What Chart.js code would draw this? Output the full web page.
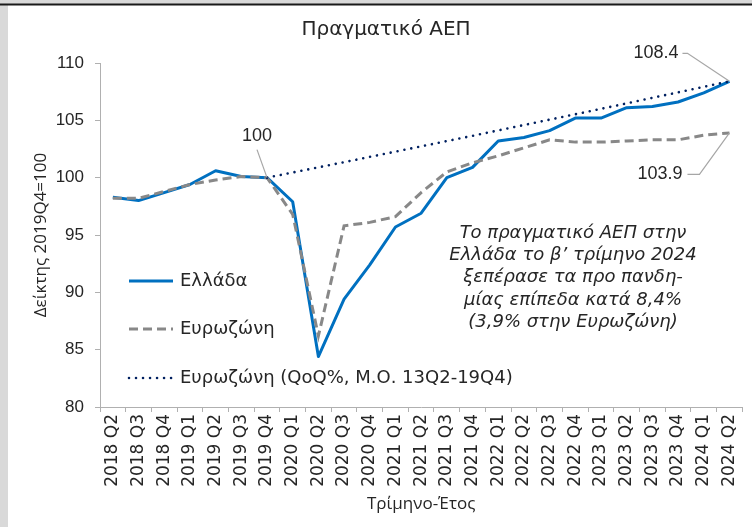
<!DOCTYPE html>
<html><head><meta charset="utf-8">
<script src="https://cdn.jsdelivr.net/npm/chart.js@4.4.1/dist/chart.umd.min.js"></script>
<style>html,body{margin:0;padding:0;background:#fff;overflow:hidden}canvas{display:block}</style>
</head><body>
<canvas id="c" width="752" height="527"></canvas>
<script>
const categories = ['2018 Q2','2018 Q3','2018 Q4','2019 Q1','2019 Q2','2019 Q3','2019 Q4',
  '2020 Q1','2020 Q2','2020 Q3','2020 Q4','2021 Q1','2021 Q2','2021 Q3','2021 Q4',
  '2022 Q1','2022 Q2','2022 Q3','2022 Q4','2023 Q1','2023 Q2','2023 Q3','2023 Q4','2024 Q1','2024 Q2'];
const greece = [98.3, 98.0, 98.7, 99.4, 100.6, 100.1, 100.0, 97.9, 84.4, 89.4, 92.4, 95.7, 96.9,
  100.0, 100.9, 103.2, 103.5, 104.1, 105.2, 105.2, 106.1, 106.2, 106.6, 107.4, 108.4];
const eurozone = [98.2, 98.2, 98.8, 99.4, 99.8, 100.1, 100.0, 96.8, 86.2, 95.8, 96.1, 96.6, 98.7,
  100.5, 101.3, 101.9, 102.6, 103.3, 103.1, 103.1, 103.2, 103.3, 103.3, 103.7, 103.9];
const eurozoneTrend = [null, null, null, null, null, null, 100.0, 100.45, 100.9, 101.35, 101.81, 102.27,
  102.73, 103.19, 103.65, 104.12, 104.59, 105.06, 105.53, 106.0, 106.48, 106.96, 107.44, 107.92, 108.4];
const yTickValues = [80, 85, 90, 95, 100, 105, 110];
const seriesNames = ['Ελλάδα', 'Ευρωζώνη', 'Ευρωζώνη (QoQ%, Μ.Ο. 13Q2-19Q4)'];
const chartTitle = 'Πραγματικό ΑΕΠ';
const yTitle = 'Δείκτης 2019Q4=100';
const xTitle = 'Τρίμηνο-Έτος';
const noteLines = ['Το πραγματικό ΑΕΠ στην', 'Ελλάδα το β’ τρίμηνο 2024', 'ξεπέρασε τα προ πανδη-',
  'μίας επίπεδα κατά 8,4%', '(3,9% στην Ευρωζώνη)'];
const callouts = [
  {series: 0, index: 6, text: '100'},
  {series: 0, index: 24, text: '108.4'},
  {series: 1, index: 24, text: '103.9'}
];

const TXT = '#262626';
const LEAD = '#a6a6a6';

const deco = {
  id: 'deco',
  beforeDraw(chart) {
    const ctx = chart.ctx;
    ctx.save();
    ctx.fillStyle = '#ffffff'; ctx.fillRect(0, 0, 752, 527);
    ctx.fillStyle = '#d9d9d9'; ctx.fillRect(0, 0, 752, 4); ctx.fillRect(0, 0, 8, 527);
    ctx.fillStyle = '#1a1a1a'; ctx.fillRect(0, 3.5, 752, 2);
    ctx.restore();
  },
  afterDraw(chart) {
    const ctx = chart.ctx;
    const xs = chart.scales.x, ys = chart.scales.y;
    ctx.save();
    // title
    ctx.fillStyle = TXT;
    ctx.font = '20px "DejaVu Sans"';
    ctx.textAlign = 'center'; ctx.textBaseline = 'middle';
    ctx.fillText(chartTitle, 386, 30);
    // legend
    const rows = [281, 329, 378];
    chart.data.datasets.forEach((ds, i) => {
      const y = rows[i];
      ctx.save();
      ctx.strokeStyle = ds.borderColor; ctx.lineWidth = ds.borderWidth;
      ctx.setLineDash(ds.borderDash || []);
      ctx.lineCap = ds.borderCapStyle || 'butt';
      ctx.beginPath(); ctx.moveTo(129, y); ctx.lineTo(173, y); ctx.stroke();
      ctx.restore();
      ctx.fillStyle = TXT;
      ctx.font = '18px "DejaVu Sans"';
      ctx.textAlign = 'left'; ctx.textBaseline = 'middle';
      ctx.fillText(ds.label, 180, y);
    });
    // callouts
    const series = [greece, eurozone];
    ctx.font = '18px "Liberation Sans"';
    ctx.strokeStyle = LEAD; ctx.lineWidth = 1.2; ctx.fillStyle = TXT;
    callouts.forEach((c, k) => {
      const px = xs.getPixelForValue(c.index);
      const py = ys.getPixelForValue(series[c.series][c.index]);
      ctx.beginPath();
      if (k === 0) {
        ctx.moveTo(px - 10, py - 28); ctx.lineTo(px, py); ctx.stroke();
        ctx.textAlign = 'center'; ctx.textBaseline = 'middle';
        ctx.fillText(c.text, px - 10, py - 42);
      } else if (k === 1) {
        ctx.moveTo(px - 47, py - 28); ctx.lineTo(px - 42, py - 28); ctx.lineTo(px, py); ctx.stroke();
        ctx.textAlign = 'right'; ctx.textBaseline = 'middle';
        ctx.fillText(c.text, px - 51, py - 28);
      } else {
        ctx.moveTo(px - 42, py + 41.5); ctx.lineTo(px - 30, py + 41.5); ctx.lineTo(px, py); ctx.stroke();
        ctx.textAlign = 'right'; ctx.textBaseline = 'middle';
        ctx.fillText(c.text, px - 47, py + 41.5);
      }
    });
    // note
    ctx.font = 'italic 18px "DejaVu Sans"';
    ctx.textAlign = 'center'; ctx.textBaseline = 'middle';
    noteLines.forEach((t, i) => ctx.fillText(t, 573, 233 + i * 22.3));
    ctx.restore();
  }
};

new Chart(document.getElementById('c'), {
  type: 'line',
  data: {
    labels: categories,
    datasets: [
      {label: seriesNames[0], data: greece, borderColor: '#0070c0', borderWidth: 3,
       pointRadius: 0, tension: 0, order: 3, borderJoinStyle: 'round'},
      {label: seriesNames[1], data: eurozone, borderColor: '#888888', borderWidth: 3,
       borderDash: [9, 5], pointRadius: 0, tension: 0, order: 2},
      {label: seriesNames[2], data: eurozoneTrend, borderColor: '#002060', borderWidth: 2.6,
       borderDash: [0.01, 7], borderCapStyle: 'round', pointRadius: 0, tension: 0, order: 1, spanGaps: false}
    ]
  },
  options: {
    responsive: false, animation: false, devicePixelRatio: 1,
    layout: {padding: {top: 63, right: 7, left: 0, bottom: 0}},
    plugins: {legend: {display: false}, tooltip: {enabled: false}, title: {display: false}},
    scales: {
      x: {
        type: 'category', offset: true,
        grid: {display: true, drawOnChartArea: false, offset: true, tickLength: 5, color: '#b0b0b0', lineWidth: 1},
        border: {display: true, color: '#b0b0b0', width: 1},
        ticks: {autoSkip: false, maxRotation: 90, minRotation: 90, padding: 2, color: TXT,
                font: {family: 'DejaVu Sans', size: 17}},
        title: {display: true, text: xTitle, color: TXT, font: {family: 'Open Sans', size: 17},
                padding: {top: 0, bottom: 13}},
        afterFit(s) { s.height = 120; }
      },
      y: {
        min: 80, max: 110,
        afterBuildTicks(s) { s.ticks = yTickValues.map(v => ({value: v})); },
        grid: {drawOnChartArea: false, tickLength: 5, color: '#b0b0b0'},
        border: {display: true, color: '#b0b0b0', width: 1},
        ticks: {padding: 11, color: TXT, font: {family: 'Liberation Sans', size: 17}},
        title: {display: true, text: yTitle, color: TXT, font: {family: 'Open Sans', size: 17},
                padding: {top: 31, bottom: 0}},
        afterFit(s) { s.width = 100; }
      }
    }
  },
  plugins: [deco]
});
</script>
</body></html>
